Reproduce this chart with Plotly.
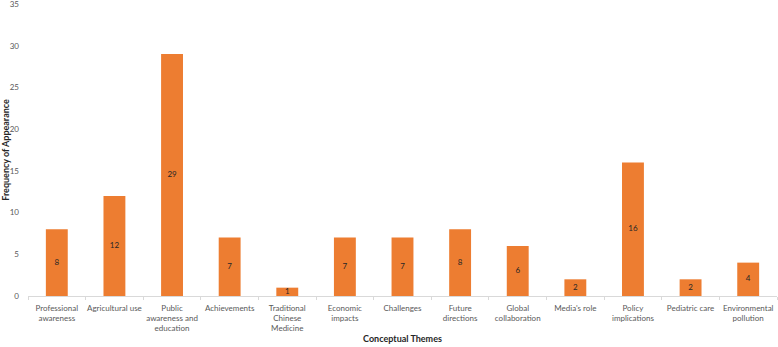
import plotly.graph_objects as go

categories = ["Professional<br>awareness", "Agricultural use", "Public<br>awareness and<br>education",
              "Achievements", "Traditional<br>Chinese<br>Medicine", "Economic<br>impacts", "Challenges",
              "Future<br>directions", "Global<br>collaboration", "Media's role", "Policy<br>implications",
              "Pediatric care", "Environmental<br>pollution"]
values = [8, 12, 29, 7, 1, 7, 7, 8, 6, 2, 16, 2, 4]
y_ticks = [0, 5, 10, 15, 20, 25, 30, 35]

FONT = "Lato, Open Sans, sans-serif"

fig = go.Figure()
fig.add_trace(go.Bar(x=categories, y=values, marker=dict(color="#ED7D31", line=dict(width=0)),
                     width=0.38, hoverinfo="skip"))
fig.add_trace(go.Scatter(x=categories, y=[v / 2 for v in values], mode="text",
                         text=[str(v) for v in values],
                         textfont=dict(family=FONT, size=8, color="#262626"),
                         hoverinfo="skip"))

fig.update_layout(
    width=778, height=347,
    margin=dict(l=28, r=1, t=4, b=51),
    paper_bgcolor="white", plot_bgcolor="white",
    showlegend=False,
    font=dict(family=FONT, size=8, color="#595959"),
    xaxis=dict(
        automargin=False, tickangle=0,
        range=[-0.5, len(categories) - 0.5],
        showline=True, linecolor="#D9D9D9", linewidth=1,
        ticks="outside", tickson="boundaries", ticklen=3, tickcolor="#D9D9D9",
        tickfont=dict(size=8, color="#595959"), ticklabelstandoff=4,
        title=dict(text="<b>Conceptual Themes</b>", font=dict(family=FONT, size=9, color="#262626"), standoff=3),
    ),
    yaxis=dict(
        automargin=False, ticklabeloverflow="allow",
        range=[0, 35], tickvals=y_ticks, showgrid=False, zeroline=False, showline=False,
        tickfont=dict(size=8, color="#595959"), ticks="", ticklabelstandoff=8,
        title=dict(text="<b>Frequency of Appearance</b>", font=dict(family=FONT, size=9, color="#262626"), standoff=3),
    ),
)

fig.write_html("out.html", config={"displayModeBar": False},
               post_script="document.body.style.margin='0';")
